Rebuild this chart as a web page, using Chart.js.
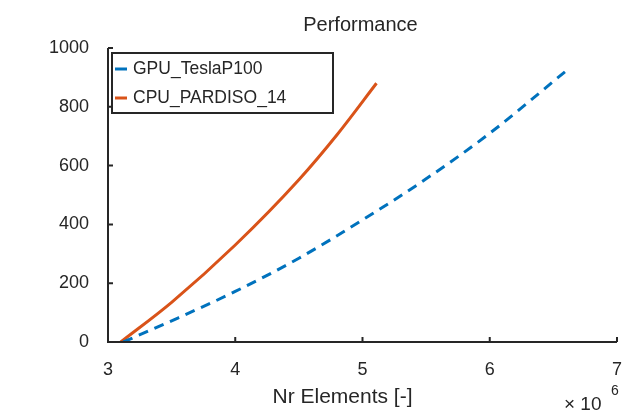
<!DOCTYPE html>
<html lang="en">
<head>
  <meta charset="UTF-8">
  <title>Performance</title>
  <script src="https://cdn.jsdelivr.net/npm/chart.js"></script>
  <style>
    body { margin: 0; background: #fff; }
    #wrap { width: 631px; height: 414px; position: relative; }
  </style>
</head>
<body>
<div id="wrap"><canvas id="chart"></canvas></div>

<script>
  // Nr elements (x 10^6) and time for each solver
  const gpuElements = [3.12, 3.5, 4.0, 4.5, 5.0, 5.5, 6.0, 6.6];
  const gpuTime     = [0, 72, 172, 285, 415, 555, 710, 922];
  const cpuElements = [3.1, 3.5, 4.0, 4.5, 4.8, 5.11];
  const cpuTime     = [0, 135, 330, 552, 705, 880];

  const xTicks = [3, 4, 5, 6, 7];
  const yTicks = [0, 200, 400, 600, 800, 1000];

  const INK = "#262626";
  const FONT = "'Liberation Sans', Arial, sans-serif";

  const toPoints = (xs, ys) => xs.map((x, i) => ({ x, y: ys[i] }));

  // axis lines with inward ticks, title, x label, exponent and legend box
  const decorations = {
    id: "decorations",
    afterDraw(chart) {
      const { ctx, chartArea: a, scales } = chart;
      const xs = scales.x, ys = scales.y;
      ctx.save();
      ctx.strokeStyle = INK;
      ctx.lineWidth = 2;
      ctx.beginPath();
      ctx.moveTo(a.left, a.top);
      ctx.lineTo(a.left, a.bottom);
      ctx.lineTo(a.right, a.bottom);
      xTicks.forEach(v => {
        const px = xs.getPixelForValue(v);
        ctx.moveTo(px, a.bottom);
        ctx.lineTo(px, a.bottom - 5);
      });
      yTicks.forEach(v => {
        const py = ys.getPixelForValue(v);
        ctx.moveTo(a.left, py);
        ctx.lineTo(a.left + 5, py);
      });
      ctx.stroke();

      ctx.fillStyle = INK;
      ctx.textAlign = "center";
      ctx.textBaseline = "middle";
      ctx.font = "20px " + FONT;
      ctx.fillText("Performance", (a.left + a.right) / 2 - 2, 25);
      ctx.font = "21px " + FONT;
      ctx.fillText("Nr Elements [-]", (a.left + a.right) / 2 - 20, 397);

      ctx.font = "19px " + FONT;
      ctx.textAlign = "left";
      ctx.fillText("\u00d7 10", 564, 405);
      ctx.font = "14px " + FONT;
      ctx.fillText("6", 611, 391);

      // legend
      const lx = a.left + 4, ly = 53, lw = 221, lh = 60;
      ctx.fillStyle = "#fff";
      ctx.fillRect(lx, ly, lw, lh);
      ctx.strokeStyle = INK;
      ctx.lineWidth = 2;
      ctx.strokeRect(lx, ly, lw, lh);
      chart.data.datasets.forEach((ds, i) => {
        const cy = ly + 16 + i * 29;
        ctx.strokeStyle = ds.borderColor;
        ctx.lineWidth = 3;
        ctx.beginPath();
        ctx.moveTo(lx + 3, cy);
        ctx.lineTo(lx + 15, cy);
        ctx.stroke();
        ctx.fillStyle = INK;
        ctx.font = "17.5px " + FONT;
        ctx.fillText(ds.label, lx + 21, cy);
      });
      ctx.restore();
    }
  };

  new Chart(document.getElementById("chart"), {
    type: "line",
    data: {
      datasets: [
        {
          label: "GPU_TeslaP100",
          data: toPoints(gpuElements, gpuTime),
          borderColor: "#0072BD",
          borderWidth: 3,
          borderDash: [10, 7],
          pointRadius: 0,
          cubicInterpolationMode: "monotone"
        },
        {
          label: "CPU_PARDISO_14",
          data: toPoints(cpuElements, cpuTime),
          borderColor: "#D95319",
          borderWidth: 3,
          pointRadius: 0,
          cubicInterpolationMode: "monotone"
        }
      ]
    },
    options: {
      responsive: true,
      maintainAspectRatio: false,
      animation: false,
      layout: { padding: { top: 48, right: 9, left: 0, bottom: 0 } },
      plugins: { legend: { display: false }, title: { display: false }, tooltip: { enabled: false } },
      scales: {
        x: {
          type: "linear",
          min: 3, max: 7,
          afterBuildTicks: s => { s.ticks = xTicks.map(v => ({ value: v })); },
          afterFit: s => { s.height = 72; },
          grid: { display: false },
          border: { display: false },
          ticks: { color: INK, font: { family: FONT, size: 18 }, padding: 9, callback: v => String(v) }
        },
        y: {
          min: 0, max: 1000,
          afterBuildTicks: s => { s.ticks = yTicks.map(v => ({ value: v })); },
          afterFit: s => { s.width = 108; },
          grid: { display: false },
          border: { display: false },
          ticks: { color: INK, font: { family: FONT, size: 18 }, padding: 11, callback: v => String(v) }
        }
      }
    },
    plugins: [decorations]
  });
</script>
</body>
</html>
